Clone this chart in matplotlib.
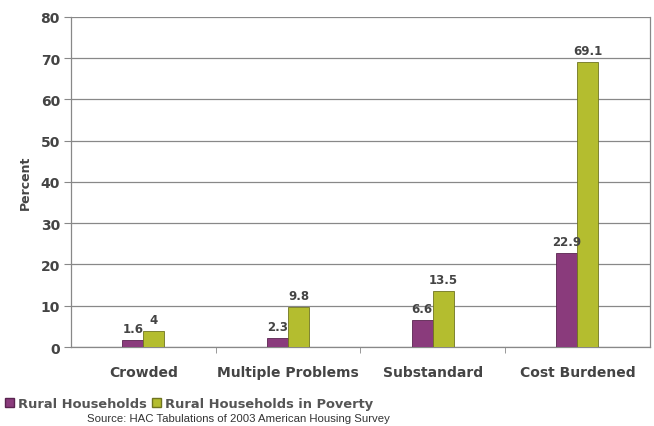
import matplotlib
matplotlib.use("Agg")
import matplotlib.pyplot as plt
import numpy as np
from matplotlib.patches import Patch

categories = ["Crowded", "Multiple Problems", "Substandard", "Cost Burdened"]
rural = [1.6, 2.3, 6.6, 22.9]
poverty = [4, 9.8, 13.5, 69.1]
series_names = ["Rural Households", "Rural Households in Poverty"]
yticks = [0, 10, 20, 30, 40, 50, 60, 70, 80]

purple = "#8a3b7c"
green = "#b4bd2f"
txt = "#444444"
grid = "#888888"

plt.rcParams['font.family'] = ['DejaVu Sans']
fig = plt.figure(figsize=(6.54, 4.27), dpi=100)
ax = fig.add_axes([0.1086, 0.185, 0.885, 0.773])

x = np.arange(len(categories))
w = 0.145
b1 = ax.bar(x - w/2, rural, w, color=purple, edgecolor="#5a2450", linewidth=0.6, zorder=3)
b2 = ax.bar(x + w/2, poverty, w, color=green, edgecolor="#6f7420", linewidth=0.6, zorder=3)

for rect, v in zip(b1, rural):
    ax.text(rect.get_x() + rect.get_width()/2, v + 1.2, f"{v:g}", ha="center", va="bottom",
            fontsize=8.5, fontweight="bold", color=txt, zorder=4)
for rect, v in zip(b2, poverty):
    ax.text(rect.get_x() + rect.get_width()/2, v + 1.2, f"{v:g}", ha="center", va="bottom",
            fontsize=8.5, fontweight="bold", color=txt, zorder=4)

ax.set_xlim(-0.5, len(categories) - 0.5)
ax.set_ylim(0, 80)
ax.set_yticks(yticks)
ax.set_yticklabels([str(t) for t in yticks], fontsize=10, fontweight="bold", color=txt)
ax.yaxis.grid(True, color=grid, linewidth=0.9, zorder=0)
ax.set_axisbelow(True)

ax.set_xticks(x)
ax.set_xticklabels(categories, fontsize=10, fontweight="bold", color=txt)
ax.set_xticks(np.arange(len(categories) - 1) + 0.5, minor=True)
ax.tick_params(axis="x", which="major", length=0, pad=13)
ax.tick_params(axis="x", which="minor", length=4, color=grid, direction="out")
ax.tick_params(axis="y", length=5, color=grid, direction="out", pad=3)

for s in ["top"]:
    ax.spines[s].set_visible(False)
for s in ["left", "bottom", "right"]:
    ax.spines[s].set_color(grid)
    ax.spines[s].set_linewidth(0.9)

ax.set_ylabel("Percent", fontsize=9, fontweight="bold", color=txt, labelpad=6)

handles = [Patch(facecolor=purple, edgecolor="#5a2450"), Patch(facecolor=green, edgecolor="#6f7420")]
leg = fig.legend(handles, series_names, loc="lower left", bbox_to_anchor=(0.0, 0.026),
                 ncol=2, frameon=False, handlelength=0.7, handleheight=0.7,
                 handletextpad=0.3, columnspacing=0.4, borderaxespad=0,
                 prop={"weight": "bold", "size": 9.4})
for t in leg.get_texts():
    t.set_color("#555555")

fig.text(0.365, 0.006, "Source: HAC Tabulations of 2003 American Housing Survey",
         ha="center", va="bottom", fontsize=8.2, family="Liberation Sans", color="#333333")

fig.savefig("out.png", dpi=100)
